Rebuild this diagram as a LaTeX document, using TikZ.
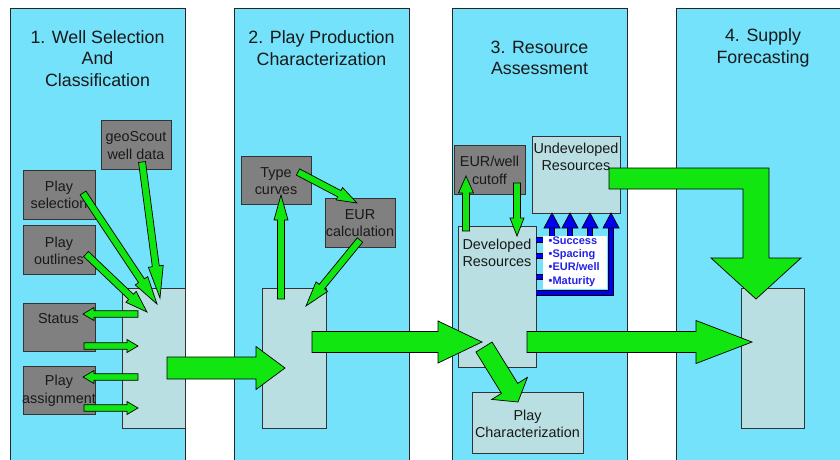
\documentclass[tikz,border=0pt]{standalone}
\usepackage{fontspec}
\setmainfont{Liberation Sans}
\usetikzlibrary{calc}
\definecolor{panel}{RGB}{115,226,250}
\definecolor{lightbox}{RGB}{185,223,227}
\definecolor{graybox}{RGB}{128,128,128}
\definecolor{agreen}{RGB}{17,230,17}
\definecolor{ablue}{RGB}{0,0,240}
\definecolor{tblue}{RGB}{35,35,230}
\definecolor{txt}{RGB}{25,25,25}
\newcommand{\blockarrow}[6][agreen]{%
  \draw[arrowline, fill=#1] let \p1=(#2), \p2=(#3),
    \n1={atan2(\y2-\y1,\x2-\x1)}, \n2={veclen(\x2-\x1,\y2-\y1)} in
    [shift={(\p1)}, rotate=\n1]
    (0,-#4) -- ({\n2-#6},-#4) -- ({\n2-#6},-#5) -- (\n2,0) --
    ({\n2-#6},#5) -- ({\n2-#6},#4) -- (0,#4) -- cycle;}
\tikzset{
  panelbox/.style={draw=black!85, fill=panel, line width=0.8pt},
  gbox/.style={draw=black!80, fill=graybox, line width=0.8pt, inner sep=0, anchor=north west},
  lbox/.style={draw=black!80, fill=lightbox, line width=0.8pt, inner sep=0, anchor=north west},
  title/.style={text=txt, align=center, font=\fontsize{17.8}{21.6}\selectfont},
  boxtext/.style={text=txt, align=center, inner sep=0, font=\fontsize{14.4}{17.5}\selectfont},
  bullettext/.style={text=tblue, align=left, inner sep=0, anchor=north west, font=\bfseries\fontsize{11}{13.3}\selectfont},
  arrowline/.style={draw=black, line width=0.7pt, line join=miter},
  blueback/.style={draw=black, line width=6.4pt},
  bluefront/.style={draw=ablue, line width=4.6pt},
}
\begin{document}
\begin{tikzpicture}[x=1pt,y=-1pt]
\useasboundingbox (0,0) rectangle (840,459);
\clip (0,0) rectangle (840,459);
\fill[white] (0,0) rectangle (840,459);
% panels
\path[panelbox] (10,8) rectangle (185,470);
\path[panelbox] (234,8) rectangle (409,470);
\path[panelbox] (452,8) rectangle (627,470);
\path[panelbox] (676,8) rectangle (860,470);
\node[title] (t1) at (97.5,58.5) {1. Well Selection\\And\\Classification};
\node[title] (t2) at (321.5,48) {2. Play Production\\Characterization};
\node[title] (t3) at (539.5,58) {3. Resource\\Assessment};
\node[title] (t4) at (763,48) {4. Supply\\Forecasting};
% column 1
\node[gbox, minimum width=70, minimum height=49] (geo) at (101,120) {};
\node[gbox, minimum width=72, minimum height=49] (psel) at (23,170) {};
\node[gbox, minimum width=72, minimum height=49] (pout) at (23,225) {};
\node[gbox, minimum width=72, minimum height=48] (stat) at (23,303) {};
\node[gbox, minimum width=72, minimum height=48] (pass) at (23,366) {};
\node[lbox, minimum width=63, minimum height=140] (c1) at (122,288) {};
\node[boxtext] (geot) at (136,145.5) {geoScout\\well data};
\node[boxtext] (pselt) at (59,195) {Play\\selection};
\node[boxtext] (poutt) at (59,251) {Play\\outlines};
\node[boxtext] (statt) at (58.5,319) {Status};
\node[boxtext] (passt) at (59,391) {Play\\assignment};
% column 2
\node[gbox, minimum width=70, minimum height=48] (type) at (241,156) {};
\node[gbox, minimum width=70, minimum height=49] (eur) at (325,198) {};
\node[lbox, minimum width=64, minimum height=140] (c2) at (262,288) {};
\node[boxtext] (typet) at (276,181) {Type\\curves};
\node[boxtext] (eurt) at (360,223) {EUR\\calculation};
% column 3
\node[gbox, minimum width=71, minimum height=49] (cut) at (454,145) {};
\node[lbox, minimum width=88, minimum height=77] (und) at (532,136) {};
\node[lbox, minimum width=78, minimum height=141] (dev) at (458,226) {};
\node[lbox, minimum width=111, minimum height=61] (pc) at (472,392) {};
\node[boxtext] (cutt) at (489.5,170.5) {EUR/well\\cutoff};
\node[boxtext] (undt) at (576,157) {Undeveloped\\Resources};
\node[boxtext] (devt) at (497,253) {Developed\\Resources};
\node[boxtext] (pct) at (527.5,424) {Play\\Characterization};
% column 4
\node[lbox, minimum width=63, minimum height=140] (c4) at (741,288) {};
% blue feedback lines
\coordinate (s1) at (536,240); \coordinate (e1) at (552,226);
\coordinate (s2) at (536,256); \coordinate (e2) at (570,226);
\coordinate (s3) at (536,277); \coordinate (e3) at (590,226);
\coordinate (s4) at (536,293); \coordinate (e4) at (611,226);
\foreach \i in {1,...,4}{\draw[blueback] (s\i) -| (e\i);}
\foreach \i in {1,...,4}{\draw[bluefront] (s\i) -| (e\i);}
\foreach \i in {1,...,4}{\draw[arrowline, fill=ablue] ($(e\i)+(-8,2)$) -- ($(e\i)+(0,-13)$) -- ($(e\i)+(8,2)$) -- cycle;}
\node[fill=white, inner sep=0, minimum width=64, minimum height=53, anchor=north west] (crit) at (543,236) {};
\node[bullettext] (critt) at (548.5,236.5) {•Success\\•Spacing\\•EUR/well\\•Maturity};
% column 1 arrows
\coordinate (a1s) at (142,162); \coordinate (a1e) at (160,298);
\coordinate (a2s) at (83,193);  \coordinate (a2e) at (157,304);
\coordinate (a3s) at (86,254);  \coordinate (a3e) at (147,312);
\coordinate (a4s) at (138,314); \coordinate (a4e) at (83,314);
\coordinate (a5s) at (84,346);  \coordinate (a5e) at (138,346);
\coordinate (a6s) at (138,377); \coordinate (a6e) at (83,377);
\coordinate (a7s) at (84,408);  \coordinate (a7e) at (138,408);
\blockarrow{a1s}{a1e}{3.5}{7.5}{32}
\blockarrow{a2s}{a2e}{3.5}{7.5}{28}
\blockarrow{a3s}{a3e}{3.5}{7.5}{22}
\blockarrow{a4s}{a4e}{3.3}{6.5}{11}
\blockarrow{a5s}{a5e}{3.3}{6.5}{11}
\blockarrow{a6s}{a6e}{3.3}{6.5}{11}
\blockarrow{a7s}{a7e}{3.3}{6.5}{11}
\coordinate (b1s) at (167,368); \coordinate (b1e) at (285,368);
\blockarrow{b1s}{b1e}{11}{21.5}{29}
% column 2 arrows
\coordinate (a8s) at (281,299);  \coordinate (a8e) at (281,195);
\coordinate (a9s) at (298,172);  \coordinate (a9e) at (357,203);
\coordinate (a10s) at (360,240); \coordinate (a10e) at (306,306);
\blockarrow{a8s}{a8e}{3.5}{7}{25}
\blockarrow{a9s}{a9e}{3.5}{7}{20}
\blockarrow{a10s}{a10e}{3.5}{7.5}{25}
\coordinate (b2s) at (312,342); \coordinate (b2e) at (482,342);
\blockarrow{b2s}{b2e}{10.5}{21}{44}
% column 3 arrows
\coordinate (a11s) at (466,231); \coordinate (a11e) at (466,176);
\coordinate (a12s) at (517,183); \coordinate (a12e) at (517,236);
\coordinate (a13s) at (484,347); \coordinate (a13e) at (518,402);
\blockarrow{a11s}{a11e}{3.5}{7.5}{17}
\blockarrow{a12s}{a12e}{3.5}{7}{18}
\blockarrow{a13s}{a13e}{9.5}{21}{16}
\coordinate (b3s) at (527,342); \coordinate (b3e) at (752,342);
\blockarrow{b3s}{b3e}{10.5}{21.5}{56}
% bent arrow from undeveloped resources to forecasting
\coordinate (bent) at (609,168);
\coordinate (btip) at (756,299);
\draw[arrowline, fill=agreen] (bent) -- (769,168) -- (769,258) -- (801,258) -- (btip)
  -- (711,258) -- (743,258) -- (743,189) -- (609,189) -- cycle;
\end{tikzpicture}
\end{document}
